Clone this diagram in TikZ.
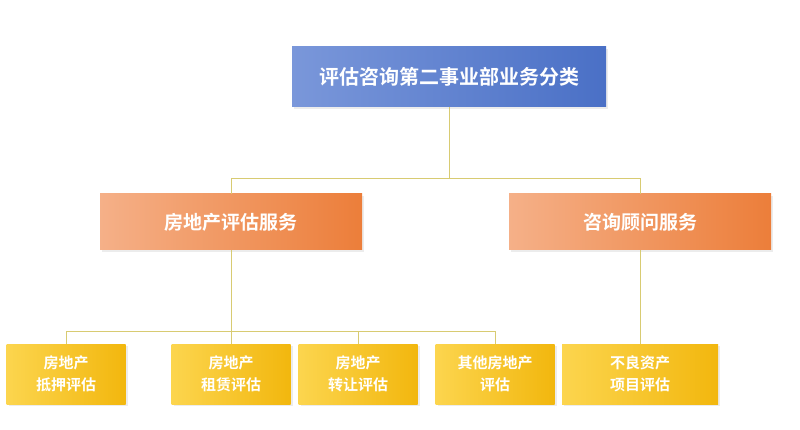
\documentclass[tikz,border=0pt]{standalone}
\usepackage{fontspec}
\usetikzlibrary{shadows}
\newfontfamily\cjk{Noto Sans CJK SC Bold}
\begin{document}
\begin{tikzpicture}[x=1pt,y=-1pt,
 box/.style={inner sep=0pt,text=white,font=\cjk,align=center,drop shadow={opacity=0.15}},
 ln/.style={draw=lineC,line width=0.8pt}]
\definecolor{lineC}{HTML}{D8CB72}
\definecolor{bA}{HTML}{7A97DA}\definecolor{bB}{HTML}{4A70C6}
\definecolor{oA}{HTML}{F5B088}\definecolor{oB}{HTML}{EC7E3A}
\definecolor{yA}{HTML}{FCD54E}\definecolor{yB}{HTML}{F2B70E}
\useasboundingbox (0,0) rectangle (800,430);
\fill[white] (0,0) rectangle (800,430);
\node[box,left color=bA,right color=bB,minimum width=314pt,minimum height=60pt,font=\cjk\fontsize{20}{24}\selectfont] (top) at (449,77) {评估咨询第二事业部业务分类};
\node[box,left color=oA,right color=oB,minimum width=262pt,minimum height=56pt,font=\cjk\fontsize{19}{23}\selectfont] (m1) at (231,222) {房地产评估服务};
\node[box,left color=oA,right color=oB,minimum width=262pt,minimum height=56pt,font=\cjk\fontsize{19}{23}\selectfont] (m2) at (640,222) {咨询顾问服务};
\foreach \n/\x/\t in {b1/66/{房地产\\[4pt]抵押评估},b2/231/{房地产\\[4pt]租赁评估},b3/358/{房地产\\[4pt]转让评估},b4/495/{其他房地产\\[4pt]评估}}
  \node[box,left color=yA,right color=yB,minimum width=119pt,minimum height=60pt,font=\cjk\fontsize{15}{18}\selectfont] (\n) at (\x,374) {\t};
\node[box,left color=yA,right color=yB,minimum width=156pt,minimum height=60pt,font=\cjk\fontsize{15}{18}\selectfont] (b5) at (640,374) {不良资产\\[4pt]项目评估};
\coordinate (h1) at (449,178);
\coordinate (h2) at (231,331);
\draw[ln] (top.south) -- (h1);
\draw[ln] (h1) -| (m1.north);
\draw[ln] (h1) -| (m2.north);
\draw[ln] (m1.south) -- (b2.north);
\draw[ln] (h2) -| (b1.north);
\draw[ln] (h2) -| (b4.north);
\draw[ln] (b3.north) -- (b3.north |- h2);
\draw[ln] (m2.south) -- (b5.north);
\end{tikzpicture}
\end{document}
